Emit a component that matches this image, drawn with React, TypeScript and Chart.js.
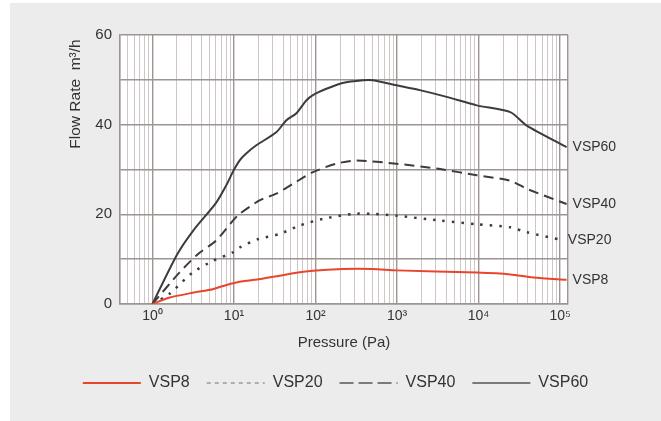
import { useEffect, useRef } from 'react';
import { Chart, registerables } from 'chart.js';

Chart.register(...registerables);

// ---- data ----
const seriesNames = ['VSP8', 'VSP20', 'VSP40', 'VSP60'];

const vsp8Pressure = [1, 1.6, 3.1, 5.5, 7.3, 10.7, 20, 44, 93, 218, 500, 980, 9500, 24500, 47000, 120000];
const vsp8Flow = [0, 1.4, 2.5, 3.3, 4.0, 4.8, 5.5, 6.6, 7.4, 7.8, 7.8, 7.5, 7.0, 6.6, 5.9, 5.4];

const vsp20Pressure = [1, 1.6, 3.1, 5.5, 9.7, 11.7, 20, 36, 64, 124, 290, 500, 980, 3400, 9500, 24500, 39000, 105000];
const vsp20Flow = [0, 2.2, 7.0, 9.6, 11.5, 12.6, 14.5, 15.6, 17.5, 19.0, 20.1, 20.1, 19.7, 18.6, 17.8, 17.1, 16.0, 14.3];

const vsp40Pressure = [1, 2.14, 3.6, 6.0, 9.7, 11.7, 20.6, 33, 53, 93, 180, 320, 980, 3400, 9500, 24500, 39000, 120000];
const vsp40Flow = [0, 7.0, 11.1, 14.1, 18.6, 20.1, 23.1, 24.6, 26.8, 29.4, 31.3, 32, 31.3, 30.1, 28.7, 27.5, 25.7, 22.3];

const vsp60Pressure = [1, 2.0, 3.2, 6.0, 8.0, 9.9, 11.7, 14, 18.8, 33, 44, 58, 77, 93, 136, 215, 384, 510, 980, 1900, 4060, 9500, 24500, 39000, 120000];
const vsp60Flow = [0, 11.0, 16.5, 22.5, 26.4, 29.8, 32, 33.5, 35.4, 38.3, 41, 42.5, 45.4, 46.6, 48, 49.3, 49.9, 49.9, 48.8, 47.7, 46.2, 44.3, 42.8, 39.8, 35];

const xMin = 0.4;
const xMax = 125000;
const decades = [0.1, 1, 10, 100, 1000, 10000, 100000];
const mantissas = [1, 2, 3, 4, 5, 6, 7, 8, 9];
const yLabeled = [0, 20, 40, 60];
const supDigits: Record<string, string> = { '0': '⁰', '1': '¹', '2': '²', '3': '³', '4': '⁴', '5': '⁵', '-': '⁻' };

const lineColors = ['#e8452c', '#3c3c3c', '#3c3c3c', '#3c3c3c'];
const lineDashes = [[], [2.5, 7], [10, 6], []];
const lineWidths = [2, 2.5, 2, 2];
const legendDashes = [[], [4, 4], [14, 5], []];
const legendColors = ['#e8452c', '#8a8080', '#555555', '#555555'];
const legendWidths = [2, 1.2, 1.6, 1.6];

const MAJOR = '#9e9494';
const MINOR = '#cdc7c7';
const TEXT = '#333333';
const FONT = "'Liberation Sans', Arial, sans-serif";

function isPow10(v: number) {
  const l = Math.log10(v);
  return Math.abs(l - Math.round(l)) < 1e-9;
}

export default function App() {
  const ref = useRef<HTMLCanvasElement | null>(null);

  useEffect(() => {
    if (!ref.current) return;
    const pressures = [vsp8Pressure, vsp20Pressure, vsp40Pressure, vsp60Pressure];
    const flows = [vsp8Flow, vsp20Flow, vsp40Flow, vsp60Flow];

    const xTicks: number[] = [];
    decades.forEach((d) => mantissas.forEach((m) => {
      const v = +(d * m).toPrecision(6);
      if (v >= xMin && v <= xMax) xTicks.push(v);
    }));
    xTicks.push(xMax);

    const datasets = seriesNames.map((name, i) => ({
      label: name,
      data: pressures[i].map((p, k) => ({ x: p, y: flows[i][k] })),
      borderColor: lineColors[i],
      backgroundColor: 'transparent',
      borderDash: lineDashes[i],
      borderWidth: lineWidths[i],
      borderCapStyle: 'butt' as const,
      pointRadius: 0,
      tension: 0.25,
      fill: false,
      yAxisID: 'y',
    }));

    const bgPlugin = {
      id: 'plotBg',
      beforeDraw(chart: any) {
        const { ctx, chartArea } = chart;
        ctx.save();
        ctx.fillStyle = '#ffffff';
        ctx.fillRect(chartArea.left, chartArea.top, chartArea.right - chartArea.left, chartArea.bottom - chartArea.top);
        ctx.restore();
      },
    };

    const endLabels = {
      id: 'endLabels',
      afterDatasetsDraw(chart: any) {
        const { ctx } = chart;
        ctx.save();
        ctx.font = `14px ${FONT}`;
        ctx.fillStyle = TEXT;
        ctx.textAlign = 'left';
        ctx.textBaseline = 'middle';
        chart.data.datasets.forEach((ds: any, i: number) => {
          const meta = chart.getDatasetMeta(i);
          const pt = meta.data[meta.data.length - 1];
          if (pt) ctx.fillText(ds.label, pt.x + 6, pt.y);
        });
        ctx.restore();
      },
    };

    const chart = new Chart(ref.current, {
      type: 'line',
      data: { datasets },
      plugins: [bgPlugin, endLabels],
      options: {
        animation: false,
        responsive: false,
        layout: { padding: { top: 32, right: 0, left: 0, bottom: 20 } },
        plugins: {
          tooltip: { enabled: false },
          legend: {
            position: 'bottom',
            labels: {
              usePointStyle: true,
              pointStyle: 'line',
              pointStyleWidth: 58,
              padding: 17,
              color: TEXT,
              font: { family: FONT, size: 16 },
              generateLabels(c: any) {
                const items = Chart.defaults.plugins.legend.labels.generateLabels(c);
                return items.map((it: any, i: number) => ({
                  ...it,
                  pointStyle: 'line',
                  lineDash: legendDashes[i],
                  lineWidth: legendWidths[i],
                  strokeStyle: legendColors[i],
                  fillStyle: 'transparent',
                }));
              },
            },
          },
        },
        scales: {
          x: {
            type: 'logarithmic',
            min: xMin,
            max: xMax,
            afterBuildTicks(scale: any) {
              scale.ticks = xTicks.map((v) => ({ value: v, major: isPow10(v) }));
            },
            afterFit(scale: any) {
              scale.height = 54;
            },
            ticks: {
              autoSkip: false,
              maxRotation: 0,
              padding: 4,
              color: TEXT,
              font: { family: FONT, size: 14 },
              callback(value: any) {
                const v = Number(value);
                if (!isPow10(v)) return '';
                const e = String(Math.round(Math.log10(v)));
                return '10' + e.split('').map((c) => supDigits[c] || c).join('');
              },
            },
            grid: {
              drawTicks: false,
              color(ctx: any) {
                const v = ctx.tick ? ctx.tick.value : 0;
                return isPow10(v) || v === xMax || v === xMin ? MAJOR : MINOR;
              },
              lineWidth(ctx: any) {
                const v = ctx.tick ? ctx.tick.value : 0;
                return isPow10(v) || v === xMax || v === xMin ? 1.4 : 1;
              },
            },
            border: { display: true, color: MAJOR, width: 1.4 },
            title: {
              display: true,
              text: 'Pressure (Pa)',
              color: TEXT,
              font: { family: FONT, size: 15 },
              padding: { top: 0, bottom: 6 },
            },
          },
          y: {
            position: 'left',
            min: 0,
            max: 60,
            afterFit(scale: any) {
              scale.width = 110;
            },
            ticks: {
              stepSize: 10,
              padding: 8,
              color: TEXT,
              font: { family: FONT, size: 15 },
              callback(value: any) {
                const v = Number(value);
                return yLabeled.includes(v) ? String(v) : '';
              },
            },
            grid: { drawTicks: false, color: MAJOR, lineWidth: 1.4 },
            border: { display: true, color: MAJOR, width: 1.4 },
            title: {
              display: true,
              text: 'Flow Rate  m³/h ',
              align: 'end',
              color: TEXT,
              font: { family: FONT, size: 15.5 },
              padding: { top: 56, bottom: 0 },
            },
          },
          y2: {
            position: 'right',
            min: 0,
            max: 60,
            afterFit(scale: any) {
              scale.width = 93;
            },
            ticks: { display: false },
            grid: { display: false, drawTicks: false },
            border: { display: false },
          },
        },
      },
    } as any);

    return () => chart.destroy();
  }, []);

  return (
    <div style={{ position: 'absolute', left: 0, top: 0, width: 661, height: 421, background: '#ffffff', overflow: 'hidden' }}>
      <div style={{ position: 'absolute', left: 10, top: 3, width: 651, height: 418, background: '#ececec' }}>
        <canvas ref={ref} width={651} height={418} style={{ display: 'block' }} />
      </div>
    </div>
  );
}
